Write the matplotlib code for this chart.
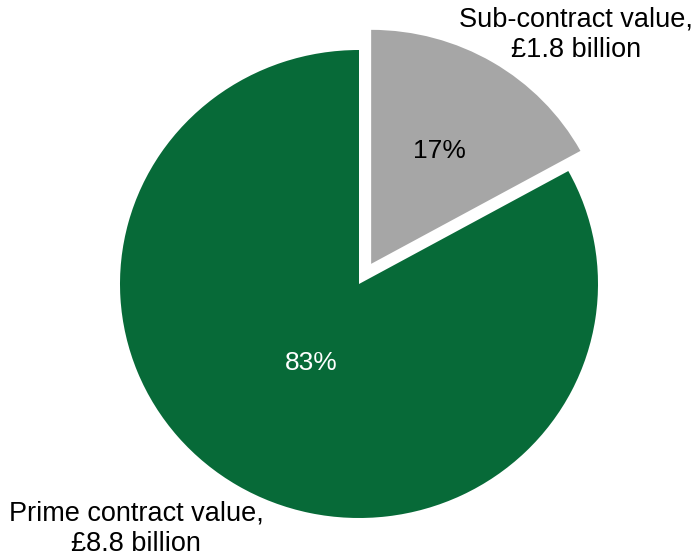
import matplotlib.pyplot as plt
import numpy as np

plt.rcParams["font.family"] = ["Liberation Sans", "DejaVu Sans"]
plt.rcParams["font.size"] = 19.5

# contract values, £ billion
labels = ["Sub-contract value,\n£1.8 billion", "Prime contract value,\n£8.8 billion"]
values = [1.8, 8.8]
colors = ["#a6a6a6", "#076a38"]
pct_colors = ["black", "white"]
explode = [0.1, 0.0]

fig = plt.figure(figsize=(6.94, 5.58), dpi=100)
ax = fig.add_axes([0, 0, 1, 1])

wedges, texts, autotexts = ax.pie(values, colors=colors, explode=explode,
                                  startangle=90, counterclock=False,
                                  autopct="%1.0f%%", pctdistance=0.56,
                                  wedgeprops=dict(linewidth=0))

# pull the big slice's percentage a bit towards the middle
for t, c in zip(autotexts, pct_colors):
    t.set_color(c)
    t.set_fontsize(19)
autotexts[1].set_position(np.array(autotexts[1].get_position()) * 0.39 / 0.56)

# pie drawn slightly wider than tall
ax.set_aspect("auto")
ax.set_xlim(-359 / 239, (694 - 359) / 239)
ax.set_ylim(-274 / 234, (558 - 274) / 234)
ax.axis("off")

fig.text(576 / 694, 1 - 35 / 558, labels[0], ha="center", va="center", linespacing=1.2)
fig.text(136 / 694, 1 - 529 / 558, labels[1], ha="center", va="center", linespacing=1.2)

fig.savefig("out.png", dpi=100)
